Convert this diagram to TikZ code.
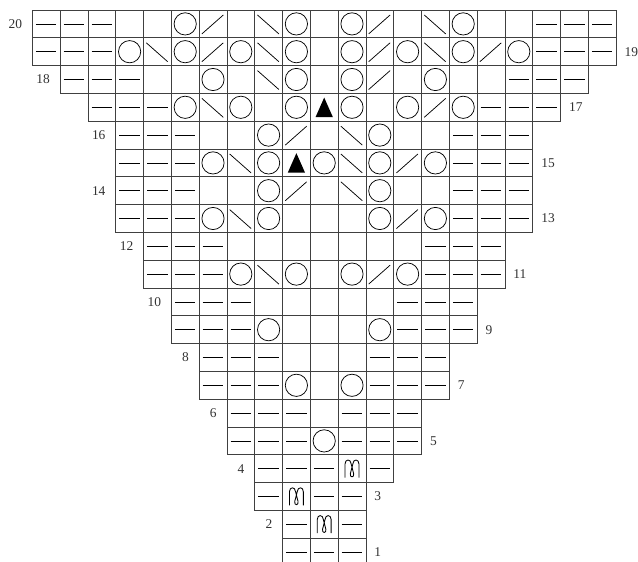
\documentclass[tikz,border=0pt]{standalone}
\usepackage{fontspec}
\setmainfont{Liberation Serif}

\begin{document}
\begin{tikzpicture}[x=0.8cm, y=0.8cm,
    gridline/.style={draw=black!75, line width=0.6pt},
    stitch/.style={line width=0.6pt},
    rownum/.style={font=\fontsize{11}{13}\selectfont, text=black!80, inner sep=0pt},
    pics/pu/.style={code={\draw[stitch] (-0.37,0) -- (0.37,0);}},
    pics/bl/.style={code={}},
    pics/yo/.style={code={\draw[stitch] (0,0) circle (0.4);}},
    pics/kt/.style={code={\draw[stitch] (-0.4,-0.36) -- (0.37,0.32);}},
    pics/sk/.style={code={\draw[stitch] (-0.4,0.32) -- (0.37,-0.36);}},
    pics/cdd/.style={code={\fill (-0.31,-0.35) -- (0.31,-0.35) -- (0,0.35) -- cycle;}},
    pics/mo/.style={code={\draw[stitch, line width=0.7pt, line join=round]
        (-0.25,-0.32) -- (-0.25,0.17) .. controls (-0.25,0.36) and (-0.04,0.36) .. (-0.03,0.17)
        -- (0.06,-0.18) .. controls (0.09,-0.33) and (-0.09,-0.33) .. (-0.06,-0.18)
        -- (0.03,0.17) .. controls (0.04,0.36) and (0.25,0.36) .. (0.25,0.17) -- (0.25,-0.32);}}]
    \useasboundingbox (-1.162,0.144) rectangle (21.788,20.36);

    % --- chart rows: row / first column / end column / stitches ---
    \foreach \r/\a/\b/\syms in {
        20/0/21/{pu,pu,pu,bl,bl,yo,kt,bl,sk,yo,bl,yo,kt,bl,sk,yo,bl,bl,pu,pu,pu},
        19/0/21/{pu,pu,pu,yo,sk,yo,kt,yo,sk,yo,bl,yo,kt,yo,sk,yo,kt,yo,pu,pu,pu},
        18/1/20/{pu,pu,pu,bl,bl,yo,bl,sk,yo,bl,yo,kt,bl,yo,bl,bl,pu,pu,pu},
        17/2/19/{pu,pu,pu,yo,sk,yo,bl,yo,cdd,yo,bl,yo,kt,yo,pu,pu,pu},
        16/3/18/{pu,pu,pu,bl,bl,yo,kt,bl,sk,yo,bl,bl,pu,pu,pu},
        15/3/18/{pu,pu,pu,yo,sk,yo,cdd,yo,sk,yo,kt,yo,pu,pu,pu},
        14/3/18/{pu,pu,pu,bl,bl,yo,kt,bl,sk,yo,bl,bl,pu,pu,pu},
        13/3/18/{pu,pu,pu,yo,sk,yo,bl,bl,bl,yo,kt,yo,pu,pu,pu},
        12/4/17/{pu,pu,pu,bl,bl,bl,bl,bl,bl,bl,pu,pu,pu},
        11/4/17/{pu,pu,pu,yo,sk,yo,bl,yo,kt,yo,pu,pu,pu},
        10/5/16/{pu,pu,pu,bl,bl,bl,bl,bl,pu,pu,pu},
        9/5/16/{pu,pu,pu,yo,bl,bl,bl,yo,pu,pu,pu},
        8/6/15/{pu,pu,pu,bl,bl,bl,pu,pu,pu},
        7/6/15/{pu,pu,pu,yo,bl,yo,pu,pu,pu},
        6/7/14/{pu,pu,pu,bl,pu,pu,pu},
        5/7/14/{pu,pu,pu,yo,pu,pu,pu},
        4/8/13/{pu,pu,pu,mo,pu},
        3/8/12/{pu,mo,pu,pu},
        2/9/12/{pu,mo,pu},
        1/9/12/{pu,pu,pu}} {
        \foreach \s [count=\i from \a] in \syms {
            \draw[gridline] (\i,\r) rectangle ++(1,-1);
            \pic at (\i+0.5,\r-0.5) {\s};
        }
        % --- row numbers: even on the left, odd on the right ---
        \ifodd\r\relax
            \node[rownum, anchor=west] (num\r) at (\b+0.3,\r-0.5) {\r};
        \else
            \node[rownum, anchor=east] (num\r) at (\a-0.36,\r-0.5) {\r};
        \fi
    }
\end{tikzpicture}
\end{document}
